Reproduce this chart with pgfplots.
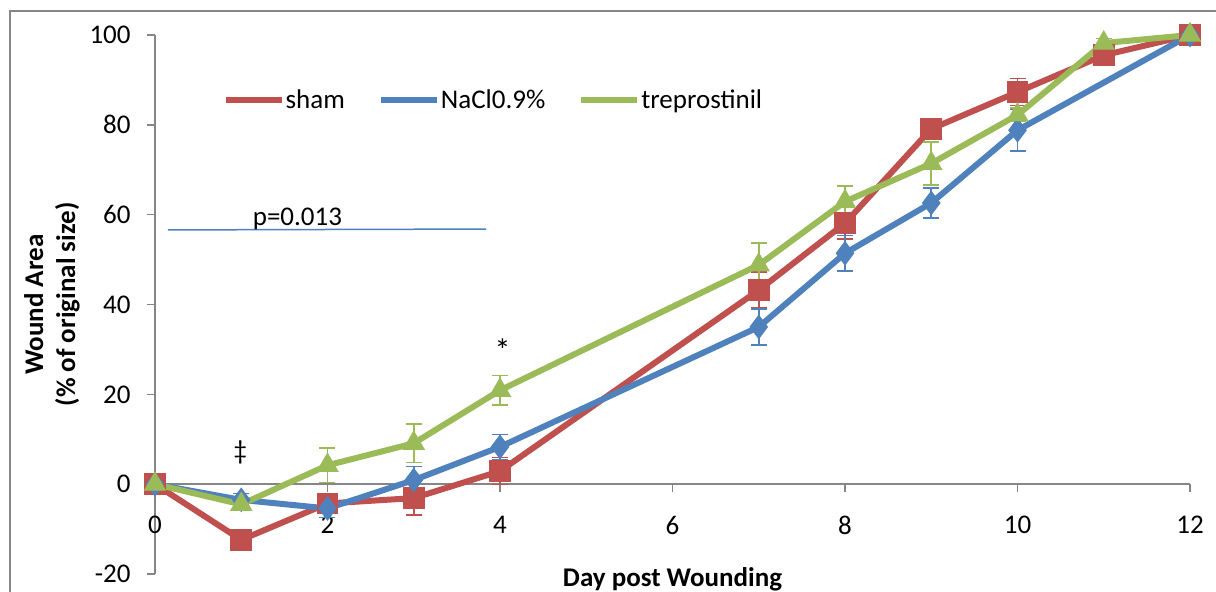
\documentclass[border=0pt]{standalone}
\usepackage{fontspec}
\setmainfont{Carlito}
\usepackage{pgfplots}
\pgfplotsset{compat=1.18}
\definecolor{shamred}{HTML}{C0504D}
\definecolor{naclblue}{HTML}{4F81BD}
\definecolor{trepgreen}{HTML}{9BBB59}
\definecolor{axgray}{HTML}{868686}

\begin{document}
\begin{tikzpicture}
\begin{axis}[
  name=ax,
  scale only axis, width=517.5pt, height=269.5pt,
  xmin=0, xmax=12, ymin=-20, ymax=100,
  clip=false,
  axis x line=middle, axis y line=left,
  axis line style={draw=axgray, line width=0.8pt, -},
  hide obscured x ticks=false, hide obscured y ticks=false,
  xtick={0,2,...,12}, xticklabels={0,2,4,6,8,10,12},
  ytick={-20,0,...,100}, yticklabels={-20,0,20,40,60,80,100},
  minor tick num=0,
  tick align=outside, major tick length=4pt,
  tick style={draw=axgray, line width=0.8pt},
  font=\fontsize{13.5}{16}\selectfont,
  xticklabel style={anchor=north, inner sep=0pt, yshift=-11.75pt},
  yticklabel style={anchor=east, inner sep=0pt, xshift=-8pt},
  xlabel={Day post Wounding},
  xlabel style={at={(axis description cs:0.5,-0.024)}, anchor=base, font=\bfseries\fontsize{13.5}{16}\selectfont},
  ylabel={Wound Area\\(\% of original size)},
  ylabel style={at={(axis description cs:-0.0995,0.5)}, anchor=center, align=center, font=\bfseries\fontsize{13.5}{16}\selectfont},
  legend columns=-1,
  legend style={at={(axis description cs:0.0650,0.879)}, anchor=west, draw=none, fill=none, inner sep=0pt,
    font=\fontsize{13.5}{16}\selectfont,
    nodes={inner xsep=0.5pt, inner ysep=2pt},
    /tikz/every even column/.append style={column sep=16pt}},
  legend image code/.code={\draw[mark repeat=2, mark phase=2, #1] (0pt,0pt) -- (14pt,0pt) -- (28pt,0pt);},
]
% sham
\addplot[shamred, line width=3pt, mark=square*, mark size=5.2pt,
  mark options={solid, fill=shamred, line width=0.5pt},
  error bars/.cd, y dir=both, y explicit,
  error bar style={line width=0.8pt, shamred},
  error mark options={rotate=90, mark size=4pt, line width=0.8pt, shamred}]
  coordinates {
  (0,0) +- (0,0.5)
  (1,-12.4) +- (0,1.5)
  (2,-4.3) +- (0,1.0)
  (3,-3.1) +- (0,3.7)
  (4,2.9) +- (0,3.0)
  (7,43.2) +- (0,4.0)
  (8,58.1) +- (0,3.5)
  (9,79.1) +- (0,1.5)
  (10,87.3) +- (0,3.0)
  (11,95.5) +- (0,1.0)
  (12,100) +- (0,0)
  };
% NaCl 0.9%
\addplot[naclblue, line width=3pt, mark=diamond*, mark size=5.8pt,
  mark options={solid, fill=naclblue, line width=0.5pt},
  error bars/.cd, y dir=both, y explicit,
  error bar style={line width=0.8pt, naclblue},
  error mark options={rotate=90, mark size=4pt, line width=0.8pt, naclblue}]
  coordinates {
  (0,0) +- (0,0.5)
  (1,-3.5) +- (0,1.4)
  (2,-5.4) +- (0,2.0)
  (3,0.9) +- (0,3.0)
  (4,8.3) +- (0,2.8)
  (7,35.0) +- (0,4.0)
  (8,51.4) +- (0,4.0)
  (9,62.6) +- (0,3.4)
  (10,78.8) +- (0,4.6)
  (12,100) +- (0,0)
  };
% treprostinil
\addplot[trepgreen, line width=3pt, mark=triangle*, mark size=6pt,
  mark options={solid, fill=trepgreen, line width=0.5pt},
  error bars/.cd, y dir=both, y explicit,
  error bar style={line width=0.8pt, trepgreen},
  error mark options={rotate=90, mark size=4pt, line width=0.8pt, trepgreen}]
  coordinates {
  (0,0) +- (0,0.5)
  (1,-4.5) +- (0,1.0)
  (2,4.2) +- (0,3.8)
  (3,9.1) +- (0,4.3)
  (4,20.9) +- (0,3.3)
  (7,48.8) +- (0,4.9)
  (8,62.9) +- (0,3.5)
  (9,71.4) +- (0,4.8)
  (10,82.2) +- (0,1.5)
  (11,98.2) +- (0,1.0)
  (12,100) +- (0,0)
  };
\legend{sham, NaCl0.9\%, treprostinil}
% annotations
\draw[naclblue, line width=0.75pt] (axis cs:0.15,56.6) -- (axis cs:3.84,56.8);
\node[anchor=base west, inner sep=0pt] at (axis cs:1.13,57.6) {p=0.013};
\node at (axis cs:0.99,7.1) {\ddag};
\node[font=\fontsize{16}{18}\selectfont] at (axis cs:4.03,29.8) {*};
\end{axis}
% chart-area frame (left and top edges, the rest is cut off)
\draw[axgray, line width=1.2pt] ([shift={(-72.5pt,-20pt)}]ax.south west) -- ([shift={(-72.5pt,281.5pt)}]ax.south west) -- ([shift={(560pt,281.5pt)}]ax.south west);
\pgfresetboundingbox
\path ([shift={(-77.5pt,-8.5pt)}]ax.south west) rectangle ([shift={(530.5pt,287pt)}]ax.south west);
\end{tikzpicture}
\end{document}
